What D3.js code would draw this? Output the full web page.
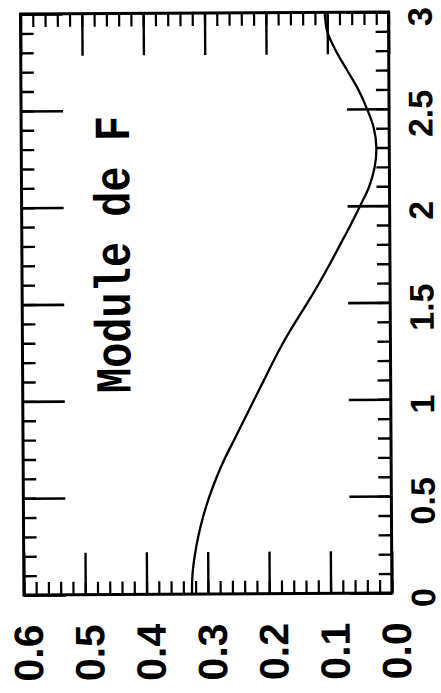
<!DOCTYPE html>
<html>
<head>
<meta charset="utf-8">
<script src="https://cdn.jsdelivr.net/npm/d3@7"></script>
<style>
  html, body { margin: 0; padding: 0; background: #fff; }
  svg { display: block; }
</style>
</head>
<body>
<svg id="chart" width="441" height="693"></svg>
<script>
// ---- data ----
const params = [0.0, 0.1, 0.2, 0.3, 0.4, 0.5, 0.6, 0.7, 0.8, 0.9, 1.0,
                1.1, 1.2, 1.3, 1.4, 1.5, 1.6, 1.7, 1.8, 1.9, 2.0,
                2.1, 2.2, 2.3, 2.4, 2.5, 2.6, 2.7, 2.8, 2.9, 3.0];
const modulus = [0.326, 0.325, 0.321, 0.315, 0.307, 0.297, 0.285, 0.271, 0.255, 0.239, 0.223,
                 0.207, 0.191, 0.174, 0.155, 0.135, 0.116, 0.098, 0.081, 0.064, 0.048,
                 0.033, 0.024, 0.021, 0.025, 0.036, 0.050, 0.068, 0.086, 0.100, 0.104];
const paramTicks = [0, 0.5, 1, 1.5, 2, 2.5, 3];
const paramLabels = ["0", "0.5", "1", "1.5", "2", "2.5", "3"];
const valueTicks = [0.0, 0.1, 0.2, 0.3, 0.4, 0.5, 0.6];
const valueLabels = ["0.0", "0.1", "0.2", "0.3", "0.4", "0.5", "0.6"];
const title = "Module de F";

// ---- layout ----
const L = 22.2, R = 390.2, T = 13, B = 594;
const svg = d3.select("#chart");
const g = svg.append("g").attr("transform", `rotate(-0.34, ${(L + R) / 2}, ${(T + B) / 2})`);

const x = d3.scaleLinear().domain([0, 0.6]).range([R, L]);   // value axis (horizontal, reversed)
const y = d3.scaleLinear().domain([0, 3]).range([B, T]);     // parameter axis (vertical)

const valueMinor = x.ticks(30);
const paramMinor = y.ticks(30);
const MAJ = 42, MIN = 13;

function styleAxis(sel, w) {
  sel.select(".domain").remove();
  sel.selectAll(".tick line").attr("stroke", "#000").attr("stroke-width", w);
}

// bottom (ticks inward = upward)
g.append("g").attr("transform", `translate(0,${B})`)
  .call(d3.axisTop(x).tickValues(valueMinor).tickSize(MIN).tickFormat(""))
  .call(s => styleAxis(s, 2.2));
g.append("g").attr("transform", `translate(0,${B})`)
  .call(d3.axisTop(x).tickValues(valueTicks).tickSize(MAJ).tickFormat(""))
  .call(s => styleAxis(s, 2.4));
// top (ticks downward)
g.append("g").attr("transform", `translate(0,${T})`)
  .call(d3.axisBottom(x).tickValues(valueMinor).tickSize(MIN).tickFormat(""))
  .call(s => styleAxis(s, 2.2));
g.append("g").attr("transform", `translate(0,${T})`)
  .call(d3.axisBottom(x).tickValues(valueTicks).tickSize(MAJ).tickFormat(""))
  .call(s => styleAxis(s, 2.4));
// left (ticks rightward)
g.append("g").attr("transform", `translate(${L},0)`)
  .call(d3.axisRight(y).tickValues(paramMinor).tickSize(MIN).tickFormat(""))
  .call(s => styleAxis(s, 2.4));
g.append("g").attr("transform", `translate(${L},0)`)
  .call(d3.axisRight(y).tickValues(paramTicks).tickSize(MAJ).tickFormat(""))
  .call(s => styleAxis(s, 2.6));
// right (ticks leftward)
g.append("g").attr("transform", `translate(${R},0)`)
  .call(d3.axisLeft(y).tickValues(paramMinor).tickSize(MIN).tickFormat(""))
  .call(s => styleAxis(s, 2.4));
g.append("g").attr("transform", `translate(${R},0)`)
  .call(d3.axisLeft(y).tickValues(paramTicks).tickSize(MAJ).tickFormat(""))
  .call(s => styleAxis(s, 2.6));

// frame
g.append("rect")
  .attr("x", L).attr("y", T).attr("width", R - L).attr("height", B - T)
  .attr("fill", "none").attr("stroke", "#000").attr("stroke-width", 3);

// curve
const pts = params.map((t, i) => ({ t, v: modulus[i] }));
g.append("path")
  .datum(pts)
  .attr("fill", "none").attr("stroke", "#000").attr("stroke-width", 2.3)
  .attr("stroke-linejoin", "round")
  .attr("d", d3.line().x(d => x(d.v)).y(d => y(d.t)).curve(d3.curveCatmullRom));

// labels font
const labelFont = "'Liberation Sans', Arial, Helvetica, sans-serif";
const FS = 41, CAP = 29.5;

// bottom value labels (rotated, reading upward)
g.selectAll("text.vlab").data(valueTicks).join("text")
  .attr("class", "vlab")
  .attr("transform", (d) => `translate(${x(d) + 4 + CAP / 2},652) rotate(-90)`)
  .attr("text-anchor", "middle")
  .attr("font-family", labelFont).attr("font-weight", "bold").attr("font-size", FS)
  .attr("fill", "#000")
  .text((d, i) => valueLabels[i]);

// right parameter labels
g.selectAll("text.plab").data(paramTicks).join("text")
  .attr("class", "plab")
  .attr("transform", (d) => `translate(433.5,${y(d) + 5}) rotate(-90)`)
  .attr("text-anchor", "middle")
  .attr("font-family", labelFont).attr("font-weight", "bold").attr("font-size", 34)
  .attr("fill", "#000")
  .text((d, i) => paramLabels[i]);

// title inside plot
g.append("text")
  .attr("transform", `translate(130,254) rotate(-90) scale(1,1.2)`)
  .attr("text-anchor", "middle")
  .attr("font-family", "'Liberation Mono', 'Courier New', monospace")
  .attr("font-weight", "bold").attr("font-size", 42)
  .attr("fill", "#000")
  .text(title);
</script>
</body>
</html>
